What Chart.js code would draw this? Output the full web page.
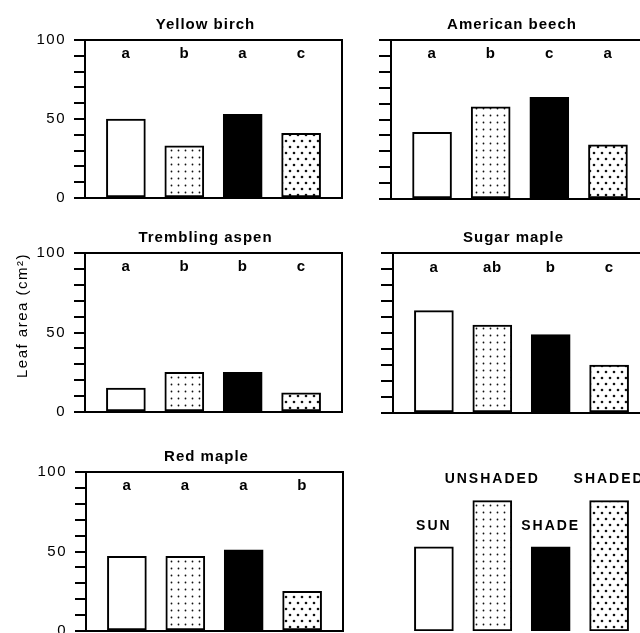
<!DOCTYPE html>
<html>
<head>
<meta charset="utf-8">
<script src="https://cdn.jsdelivr.net/npm/chart.js@4.4.1/dist/chart.umd.min.js"></script>
<style>
  html, body { margin: 0; padding: 0; background: #fff; width: 640px; height: 633px; overflow: hidden; }
  canvas { position: absolute; }
</style>
</head>
<body>
<canvas id="c1"></canvas>
<canvas id="c2"></canvas>
<canvas id="c3"></canvas>
<canvas id="c4"></canvas>
<canvas id="c5"></canvas>
<canvas id="c6"></canvas>
<script>
// ─── Data ─────────────────────────────────────────────────────────────
const treatments     = ["Sun", "Unshaded", "Shade", "Shaded"];
const yellowBirch    = [50, 33, 53, 41];
const americanBeech  = [42, 58, 64, 34];
const tremblingAspen = [15, 25, 25, 12];
const sugarMaple     = [64, 55, 49, 30];
const redMaple       = [47, 47, 51, 25];

const yellowBirchLetters    = ["a", "b", "a", "c"];
const americanBeechLetters  = ["a", "b", "c", "a"];
const tremblingAspenLetters = ["a", "b", "b", "c"];
const sugarMapleLetters     = ["a", "ab", "b", "c"];
const redMapleLetters       = ["a", "a", "a", "b"];

const legendLabels  = ["SUN", "UNSHADED", "SHADE", "SHADED"];
const legendHeights = [53, 82, 53, 82];

const yLabelTicks = [0, 50, 100];
const yTitle = "Leaf area (cm²)";

const FONT = "'Liberation Sans', Arial, sans-serif";
Chart.defaults.font.family = FONT;
Chart.defaults.color = "#000";

// ─── Fills ────────────────────────────────────────────────────────────
function dotPattern(w, h, dots, r) {
  const c = document.createElement("canvas");
  c.width = w; c.height = h;
  const g = c.getContext("2d");
  g.fillStyle = "#fff";
  g.fillRect(0, 0, w, h);
  g.fillStyle = "#111";
  dots.forEach(([x, y]) => { g.beginPath(); g.arc(x, y, r, 0, Math.PI * 2); g.fill(); });
  return g.createPattern(c, "repeat");
}
const unshadedFill = dotPattern(7, 7, [[3.5, 3.5]], 0.9);
const shadedFill   = dotPattern(8, 12, [[2, 3], [6, 9]], 1.3);
const fills = ["#fff", unshadedFill, "#000", shadedFill];

// ─── Plugins ──────────────────────────────────────────────────────────
const spacing = {
  id: "spacing",
  beforeDraw(chart) { chart.ctx.letterSpacing = "1.5px"; }
};

const panelTitle = {
  id: "panelTitle",
  afterDraw(chart, args, opts) {
    if (!opts.text) return;
    const { ctx, chartArea: a } = chart;
    ctx.save();
    ctx.letterSpacing = "1px";
    ctx.font = "bold 15px " + FONT;
    ctx.fillStyle = "#000";
    ctx.textAlign = "center";
    ctx.textBaseline = "middle";
    ctx.fillText(opts.text, (a.left + a.right) / 2 - 8, a.top - 15);
    ctx.restore();
  }
};

const frame = {
  id: "frame",
  afterDraw(chart, args, opts) {
    if (!opts.display) return;
    const { ctx, chartArea: a } = chart;
    ctx.save();
    ctx.strokeStyle = "#000";
    ctx.lineWidth = 2;
    ctx.strokeRect(a.left, a.top, a.right - a.left, a.bottom - a.top);
    ctx.restore();
  }
};

const letters = {
  id: "letters",
  afterDraw(chart, args, opts) {
    if (!opts.labels) return;
    const { ctx, scales: { x, y } } = chart;
    ctx.save();
    ctx.letterSpacing = "0.5px";
    ctx.font = "bold 15px " + FONT;
    ctx.fillStyle = "#000";
    ctx.textAlign = "center";
    ctx.textBaseline = "middle";
    opts.labels.forEach((t, i) => ctx.fillText(t, x.getPixelForValue(i), y.getPixelForValue(91)));
    ctx.restore();
  }
};

const barLabels = {
  id: "barLabels",
  afterDraw(chart, args, opts) {
    if (!opts.labels) return;
    const { ctx } = chart;
    const bars = chart.getDatasetMeta(0).data;
    ctx.save();
    ctx.letterSpacing = "2px";
    ctx.font = "bold 14px " + FONT;
    ctx.fillStyle = "#000";
    ctx.textAlign = "center";
    ctx.textBaseline = "middle";
    opts.labels.forEach((t, i) => ctx.fillText(t, bars[i].x, bars[i].y - 21));
    ctx.restore();
  }
};

// ─── Panels ───────────────────────────────────────────────────────────
function makePanel(id, p) {
  const canvas = document.getElementById(id);
  const top = p.plotTop - 40;
  const height = p.plotBottom - top + 20;
  canvas.width = p.width;
  canvas.height = height;
  canvas.style.left = p.x + "px";
  canvas.style.top = top + "px";
  canvas.style.width = p.width + "px";
  canvas.style.height = height + "px";

  const axisWidth = p.left - p.x;
  const padRight = p.width - (p.right - p.x);

  return new Chart(canvas, {
    type: "bar",
    data: {
      labels: treatments,
      datasets: [{
        data: p.values.map((v, i) => ({ x: i, y: v })),
        backgroundColor: fills,
        borderColor: "#000",
        borderWidth: 2,
        borderSkipped: false,
        barThickness: 39,
      }]
    },
    options: {
      responsive: false,
      animation: false,
      events: [],
      layout: { padding: { top: 40, bottom: 20, right: padRight, left: 0 } },
      plugins: {
        legend: { display: false },
        tooltip: { enabled: false },
        panelTitle: { text: p.title },
        frame: { display: p.axis },
        letters: { labels: p.letters },
        barLabels: { labels: p.barLabels },
      },
      scales: {
        x: { type: "linear", min: -0.7, max: 3.7, offset: false, display: false },
        y: {
          display: p.axis,
          min: 0,
          max: 100,
          ticks: {
            stepSize: 10,
            autoSkip: false,
            padding: 8,
            color: "#000",
            font: { size: 15 },
            callback: v => (p.tickLabels && yLabelTicks.includes(v)) ? v : "",
          },
          grid: { drawOnChartArea: false, drawTicks: true, tickLength: p.tickLength || 11, color: "#000", lineWidth: 2 },
          border: { display: true, color: "#000", width: 2 },
          title: {
            display: !!p.yTitle,
            text: p.yTitle,
            align: "end",
            color: "#000",
            font: { size: 15 },
            padding: { top: 14, bottom: 0 },
          },
          afterFit: s => { s.width = axisWidth; },
        }
      }
    },
    plugins: [spacing, frame, panelTitle, letters, barLabels]
  });
}

makePanel("c1", { x: 0,   width: 350, left: 85,  right: 342, plotTop: 40,  plotBottom: 198, axis: true, tickLabels: true,  tickLength: 11,
  title: "Yellow birch", values: yellowBirch, letters: yellowBirchLetters });
makePanel("c2", { x: 340, width: 320, left: 391, right: 649, plotTop: 40,  plotBottom: 199, axis: true, tickLabels: false, tickLength: 12,
  title: "American beech", values: americanBeech, letters: americanBeechLetters });
makePanel("c3", { x: 0,   width: 350, left: 85,  right: 342, plotTop: 253, plotBottom: 412, axis: true, tickLabels: true,  tickLength: 11,
  title: "Trembling aspen", values: tremblingAspen, letters: tremblingAspenLetters, yTitle: yTitle });
makePanel("c4", { x: 340, width: 320, left: 393, right: 650, plotTop: 253, plotBottom: 413, axis: true, tickLabels: false, tickLength: 12,
  title: "Sugar maple", values: sugarMaple, letters: sugarMapleLetters });
makePanel("c5", { x: 0,   width: 350, left: 86,  right: 343, plotTop: 472, plotBottom: 631, axis: true, tickLabels: true,  tickLength: 11,
  title: "Red maple", values: redMaple, letters: redMapleLetters });
makePanel("c6", { x: 340, width: 320, left: 393, right: 650, plotTop: 472, plotBottom: 631, axis: false,
  values: legendHeights, barLabels: legendLabels });
</script>
</body>
</html>
